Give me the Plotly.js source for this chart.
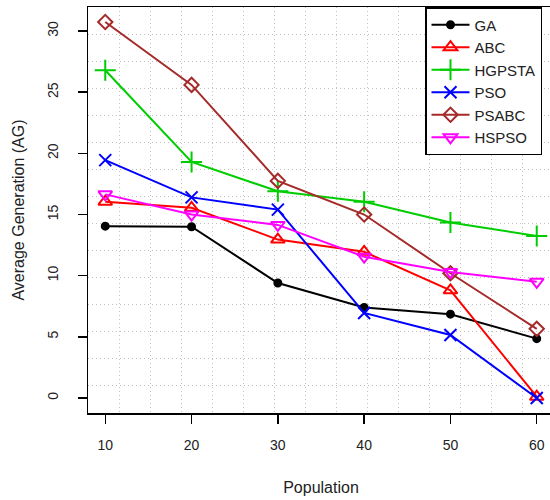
<!DOCTYPE html>
<html>
<head>
<meta charset="utf-8">
<script src="https://cdn.plot.ly/plotly-3.0.1.min.js"></script>
<style>
html, body { margin: 0; padding: 0; overflow: hidden; background: #fff; }
#chart { width: 560px; height: 500px; }
</style>
</head>
<body>
<div id="chart"></div>
<script>
var population = [10, 20, 30, 40, 50, 60];
var seriesNames = ["GA", "ABC", "HGPSTA", "PSO", "PSABC", "HSPSO"];
var GA     = [14.05, 14.0, 9.4, 7.4, 6.85, 4.85];
var ABC    = [16.05, 15.55, 12.95, 11.95, 8.8, 0.1];
var HGPSTA = [26.8, 19.3, 16.9, 16.05, 14.35, 13.25];
var PSO    = [19.45, 16.4, 15.4, 6.95, 5.15, 0.0];
var PSABC  = [30.74, 25.6, 17.75, 15.0, 10.2, 5.65];
var HSPSO  = [16.65, 15.0, 14.15, 11.55, 10.3, 9.5];
var xTicks = [10, 20, 30, 40, 50, 60];
var yTicks = [0, 5, 10, 15, 20, 25, 30];

var values = [GA, ABC, HGPSTA, PSO, PSABC, HSPSO];
var colors = ["#000000", "#ff0000", "#00cd00", "#0000ff", "#a52a2a", "#ff00ff"];
var symbols = ["circle", "triangle-up-open", "cross-thin-open", "x-thin-open", "diamond-open", "triangle-down-open"];
var sizes = [7, 12, 15, 12, 11, 12];

var traces = seriesNames.map(function (name, i) {
  return {
    x: population,
    y: values[i],
    name: name,
    type: "scatter",
    mode: "lines+markers",
    line: { color: colors[i], width: 2 },
    marker: { symbol: symbols[i], size: sizes[i], color: colors[i], line: { color: colors[i], width: 2 } }
  };
});

var font = { family: "Liberation Sans, Arial, sans-serif", size: 14, color: "#222" };
var gridDash = "1px,3px";

var layout = {
  width: 560, height: 500,
  margin: { l: 88, r: 6, t: 7, b: 87 },
  paper_bgcolor: "#fff", plot_bgcolor: "#fff",
  font: font,
  showlegend: true,
  legend: {
    xanchor: "left", yanchor: "top", y: 1,
    itemwidth: 38,
    bordercolor: "#000", borderwidth: 1.5, bgcolor: "#fff",
    font: { family: font.family, size: 15, color: "#222" }
  },
  xaxis: {
    range: [8, 62],
    tickvals: xTicks, ticktext: xTicks.map(String),
    ticks: "outside", ticklen: 9, tickwidth: 1.5, tickcolor: "#000",
    ticklabelstandoff: 10,
    showline: true, linecolor: "#000", linewidth: 1.5, mirror: true,
    showgrid: false, zeroline: false,
    minor: { tick0: 8, dtick: 3.6, showgrid: true, gridcolor: "#c0c0c0", griddash: gridDash, gridwidth: 1, ticks: "" },
    title: { text: "Population", font: { family: font.family, size: 16, color: "#222" }, standoff: 29 }
  },
  yaxis: {
    range: [-1.23, 31.97],
    tickvals: yTicks, ticktext: yTicks.map(String),
    tickangle: -90,
    ticks: "outside", ticklen: 9, tickwidth: 1.5, tickcolor: "#000",
    ticklabelstandoff: 14,
    showline: true, linecolor: "#000", linewidth: 1.5, mirror: true,
    showgrid: false, zeroline: false,
    minor: { tick0: -1.23, dtick: 2.2133, showgrid: true, gridcolor: "#c0c0c0", griddash: gridDash, gridwidth: 1, ticks: "" },
    title: { text: "Average Generation (AG)", font: { family: font.family, size: 16, color: "#222" }, standoff: 16 }
  }
};
// legend left edge at 425px within a 466px-wide plot area starting at 88px
layout.legend.x = (425 - 88) / 466;

Plotly.newPlot("chart", traces, layout, { displayModeBar: false, staticPlot: true });
</script>
</body>
</html>
